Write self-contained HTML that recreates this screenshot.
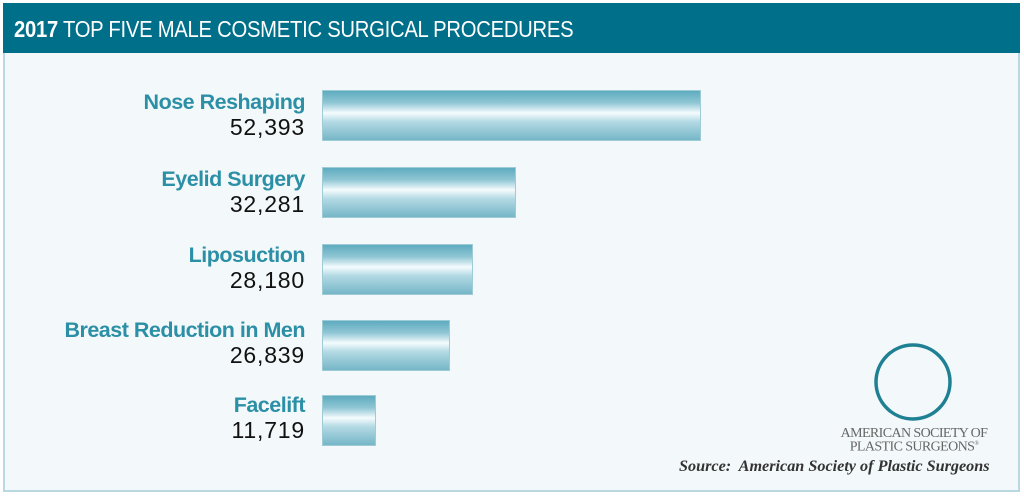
<!DOCTYPE html>
<html><head><meta charset="utf-8"><style>
body{margin:0;width:1024px;height:496px;background:#fff;position:relative;overflow:hidden;font-family:"Liberation Sans",sans-serif}
.frame{position:absolute;left:3px;top:3px;width:1013px;height:485px;border:2px solid #b9d8e2;background:#f3f8fb}
.hdr{position:absolute;left:3px;top:3px;width:1017px;height:50px;background:#006f8a;color:#fff;font-size:23px;line-height:52px;padding-left:11px;box-sizing:border-box;letter-spacing:-0.3px}
.hdr span{display:inline-block;transform:scaleX(0.88);transform-origin:left}
.bar{position:absolute;left:322px;height:51px;background:linear-gradient(#5aa9bd 0%,#8fc6d4 25%,#f4fbfd 45%,#b4dae4 62%,#72b4c6 100%);box-shadow:0 0 0 1px #9fcbd7 inset}
.lab{position:absolute;right:719px;text-align:right;white-space:nowrap}
.t{color:#2b8fa6;font-size:21.5px;font-weight:bold;letter-spacing:-0.5px}
.n{color:#111;font-size:23px;letter-spacing:0.8px}
</style></head><body>
<div class="frame"></div>
<div class="hdr"><span><b>2017</b> TOP FIVE MALE COSMETIC SURGICAL PROCEDURES</span></div>

<div class="bar" style="top:90px;width:379px"></div>
<div class="bar" style="top:167px;width:194px"></div>
<div class="bar" style="top:244px;width:151px"></div>
<div class="bar" style="top:320px;width:128px"></div>
<div class="bar" style="top:395px;width:54px"></div>

<div class="lab t" style="top:90px">Nose Reshaping</div><div class="lab n" style="top:114px">52,393</div>
<div class="lab t" style="top:167px">Eyelid Surgery</div><div class="lab n" style="top:191px">32,281</div>
<div class="lab t" style="top:243px">Liposuction</div><div class="lab n" style="top:267px">28,180</div>
<div class="lab t" style="top:318px">Breast Reduction in Men</div><div class="lab n" style="top:342px">26,839</div>
<div class="lab t" style="top:393px">Facelift</div><div class="lab n" style="top:417px">11,719</div>

<svg style="position:absolute;left:870px;top:340px" width="90" height="90">
<circle cx="43" cy="42" r="37" fill="none" stroke="#1f8093" stroke-width="3.5"/>
</svg>
<div style="position:absolute;left:830px;top:428px;width:168px;text-align:center;font-family:'Liberation Serif',serif;font-size:14px;line-height:11px;color:#666;letter-spacing:-0.6px">AMERICAN SOCIETY OF<br>PLASTIC SURGEONS<sup style="font-size:6px">®</sup></div>
<div style="position:absolute;left:679px;top:457px;font-family:'Liberation Serif',serif;font-style:italic;font-weight:bold;font-size:16.2px;color:#333">Source:&nbsp; American Society of Plastic Surgeons</div>
</body></html>
